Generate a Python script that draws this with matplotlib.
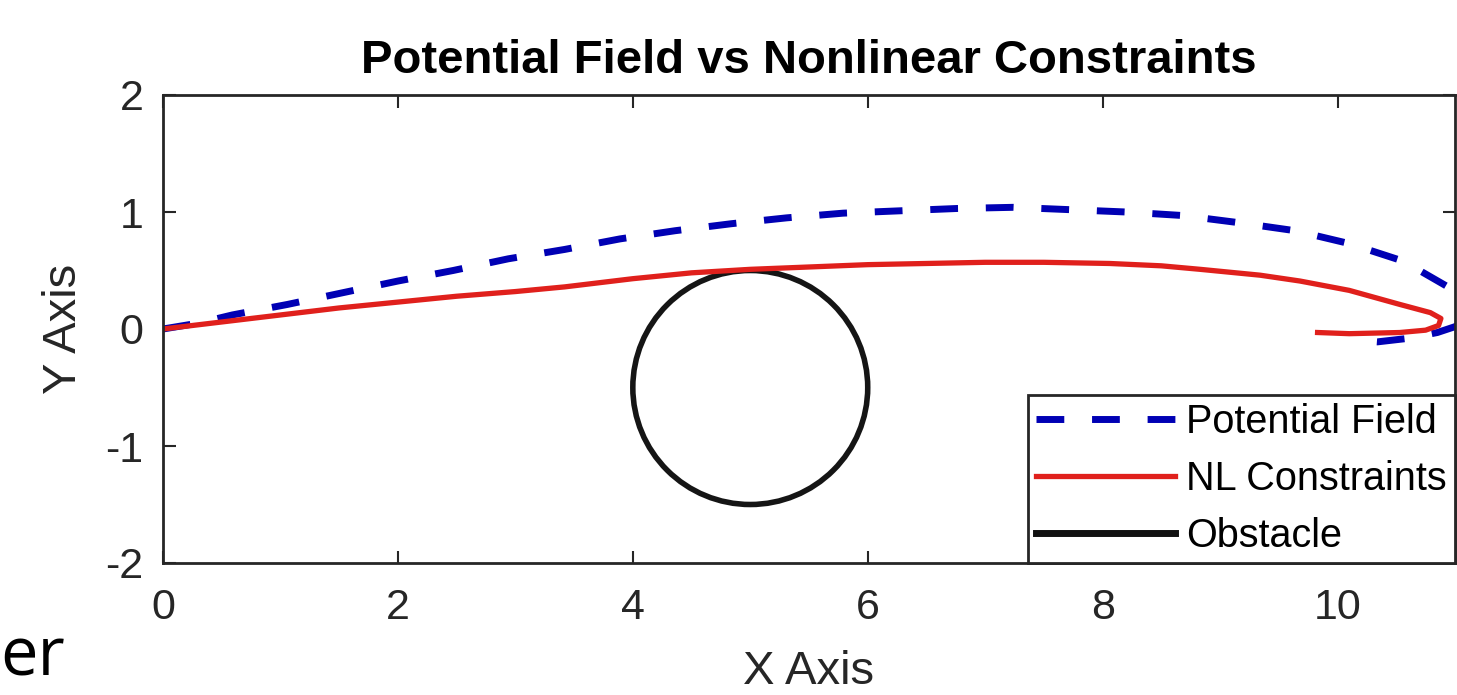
import matplotlib
matplotlib.use("Agg")
import matplotlib.pyplot as plt
from matplotlib.patches import Circle
from matplotlib.lines import Line2D

plt.rcParams['font.family'] = ['Liberation Sans', 'DejaVu Sans']
plt.rcParams['axes.unicode_minus'] = False

# path
pf_x = [0, 0.3, 0.59, 1.06, 1.53, 2.0, 2.47, 2.94, 3.42, 3.89, 4.36, 4.84, 5.31,
        5.79, 6.27, 6.76, 7.24, 7.72, 8.2, 8.68, 9.15, 9.64, 10.1, 10.56, 10.94,
        11.08, 11.1, 11.0, 10.85, 10.6, 10.34, 10.2]
pf_y = [0, 0.05, 0.12, 0.21, 0.31, 0.41, 0.50, 0.60, 0.68, 0.77, 0.84, 0.90, 0.95,
        0.99, 1.01, 1.03, 1.04, 1.02, 1.0, 0.97, 0.91, 0.84, 0.73, 0.58, 0.36,
        0.2, 0.08, 0.02, -0.03, -0.08, -0.11, -0.1]

nl_x = [0, 0.5, 1.0, 1.5, 2.0, 2.5, 3.0, 3.42, 4.0, 4.5, 5.0, 5.5, 6.0, 6.5, 7.0,
        7.5, 8.06, 8.5, 8.83, 9.34, 9.68, 10.1, 10.53, 10.79, 10.88, 10.86, 10.75,
        10.53, 10.1, 9.83]
nl_y = [0, 0.06, 0.12, 0.18, 0.23, 0.28, 0.32, 0.36, 0.43, 0.48, 0.51, 0.53, 0.55,
        0.56, 0.57, 0.57, 0.56, 0.54, 0.51, 0.46, 0.41, 0.33, 0.21, 0.14, 0.09,
        0.03, -0.01, -0.03, -0.04, -0.03]

obs_center = (5, -0.5)
obs_radius = 1

xticks = [0, 2, 4, 6, 8, 10]
yticks = [-2, -1, 0, 1, 2]

fig = plt.figure(figsize=(14.57, 6.95), dpi=100)
ax = fig.add_axes([163/1457, 1-563/695, (1455-163)/1457, (563-95)/695])

ax.plot(pf_x, pf_y, color='#0000b4', lw=5, dashes=(4, 4), label='Potential Field')
ax.plot(nl_x, nl_y, color='#e0201c', lw=3.8, label='NL Constraints')
ax.add_patch(Circle(obs_center, obs_radius, fill=False, edgecolor='#151515', lw=4))

ax.set_xlim(0, 11)
ax.set_ylim(-2, 2)
ax.set_xticks(xticks)
ax.set_yticks(yticks)
ax.tick_params(direction='in', length=9, width=1.5, top=True, right=True,
               labelsize=31, labelcolor='#262626', color='#262626')
ax.tick_params(axis='x', pad=18)
ax.tick_params(axis='y', pad=14)
for s in ax.spines.values():
    s.set_linewidth(2)
    s.set_color('#262626')

ax.set_xlabel('X Axis', fontsize=34, color='#262626', labelpad=16)
ax.set_ylabel('Y Axis', fontsize=34, color='#262626', labelpad=14)
ax.set_title('Potential Field vs Nonlinear Constraints', fontsize=34,
             fontweight='bold', pad=16)

handles = [Line2D([], [], color='#0000b4', lw=5, dashes=(4, 4)),
           Line2D([], [], color='#e0201c', lw=3.8),
           Line2D([], [], color='#111111', lw=5)]
leg = ax.legend(handles, ['Potential Field', 'NL Constraints', 'Obstacle'],
                loc='lower right', fontsize=28.5, borderaxespad=0, fancybox=False,
                framealpha=1, edgecolor='#262626', handlelength=3.5,
                handletextpad=0.3, labelspacing=0.48, borderpad=0.2)
leg.get_frame().set_linewidth(2)

fig.text(0, 3/695, 'er', fontsize=48, ha='left', va='bottom',
         family=['Open Sans', 'DejaVu Sans'])

fig.savefig('out.png', dpi=100)
